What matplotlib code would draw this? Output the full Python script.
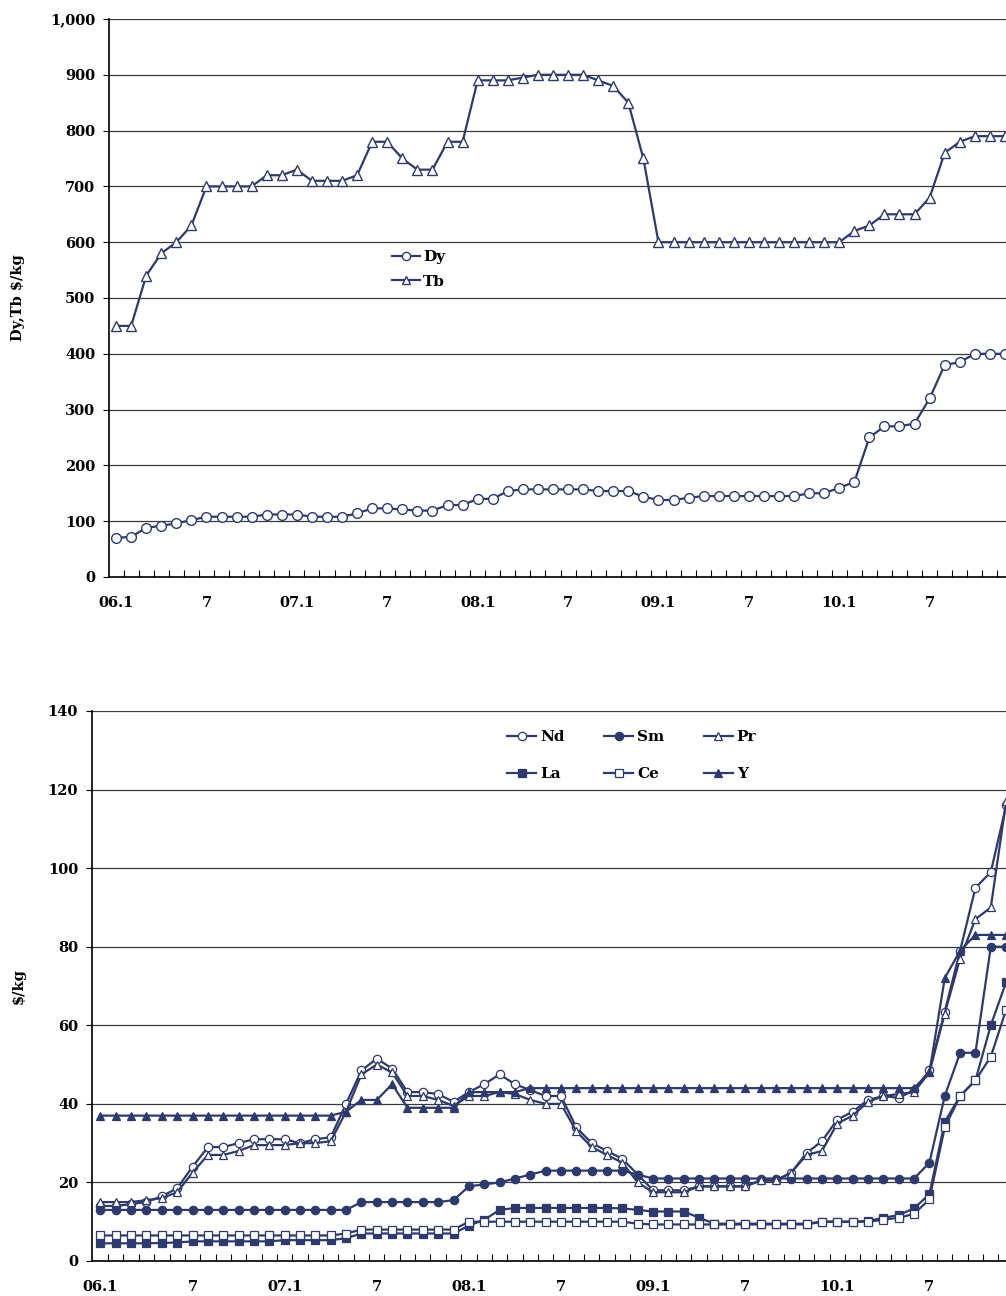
import numpy as np
import matplotlib
matplotlib.use("Agg")
import matplotlib.pyplot as plt
from matplotlib.ticker import FixedLocator, FuncFormatter

# ── Data (monthly, 06.1 … 10.12) ─────────────────────────────────────────────
months = np.arange(60)
tick_pos = np.arange(0, 60, 6)
tick_lbl = ["06.1", "7", "07.1", "7", "08.1", "7", "09.1", "7", "10.1", "7"]

dy = [70, 72, 88, 92, 96, 102, 108, 108, 108, 108,
      112, 112, 112, 108, 108, 108, 114, 123, 123, 121,
      119, 119, 129, 129, 140, 140, 154, 157, 157, 157,
      157, 157, 154, 154, 154, 144, 138, 138, 142, 145,
      145, 145, 145, 145, 145, 145, 150, 150, 160, 170,
      250, 270, 270, 275, 320, 380, 385, 400, 400, 400]
tb = [450, 450, 540, 580, 600, 630, 700, 700, 700, 700,
      720, 720, 730, 710, 710, 710, 720, 780, 780, 750,
      730, 730, 780, 780, 890, 890, 890, 895, 900, 900,
      900, 900, 890, 880, 850, 750, 600, 600, 600, 600,
      600, 600, 600, 600, 600, 600, 600, 600, 600, 620,
      630, 650, 650, 650, 680, 760, 780, 790, 790, 790]

nd = [14, 14, 14.5, 15, 16.5, 18.5, 24, 29, 29, 30,
      31, 31, 31, 30, 31, 31.5, 40, 48.5, 51.5, 49,
      43, 43, 42.5, 40.5, 43, 45, 47.5, 45, 43.5, 42,
      42, 34, 30, 28, 26, 22, 18, 18, 18, 19,
      19, 19, 19, 20.5, 20.5, 22.5, 27.5, 30.5, 36, 38,
      41, 42, 41.5, 43.5, 48.5, 63.5, 79, 95, 99, 116]
pr = [15, 15, 15, 15.5, 16, 17.5, 22.5, 27, 27, 28,
      29.5, 29.5, 29.5, 30, 30, 30.5, 38, 47.5, 50, 48,
      42, 42, 41, 39.5, 42, 42, 43, 42.5, 41, 40,
      40, 33, 29, 27, 25, 20, 17.5, 17.5, 17.5, 19,
      19, 19, 19, 20.5, 20.5, 22.5, 27, 28, 35, 37,
      40.5, 42, 42.5, 43, 48, 63, 77, 87, 90, 117]
sm = [13, 13, 13, 13, 13, 13, 13, 13, 13, 13,
      13, 13, 13, 13, 13, 13, 13, 15, 15, 15,
      15, 15, 15, 15.5, 19, 19.5, 20, 21, 22, 23,
      23, 23, 23, 23, 23, 22, 21, 21, 21, 21,
      21, 21, 21, 21, 21, 21, 21, 21, 21, 21,
      21, 21, 21, 21, 25, 42, 53, 53, 80, 80]
la = [4.5, 4.5, 4.5, 4.5, 4.6, 4.7, 5, 5, 5, 5,
      5, 5, 5.3, 5.3, 5.3, 5.3, 5.8, 7, 7, 7,
      7, 7, 7, 7, 9, 10.5, 13, 13.5, 13.5, 13.5,
      13.5, 13.5, 13.5, 13.5, 13.4, 13, 12.6, 12.6, 12.6, 11,
      9.5, 9.5, 9.5, 9.5, 9.5, 9.5, 9.5, 10, 10, 10,
      10.2, 11, 11.7, 13.4, 17, 35.4, 42, 46, 60, 71]
ce = [6.5, 6.5, 6.5, 6.5, 6.5, 6.5, 6.5, 6.5, 6.5, 6.5,
      6.5, 6.5, 6.5, 6.5, 6.5, 6.5, 7, 8, 8, 8,
      8, 8, 8, 8, 10, 10, 10, 10, 10, 10,
      10, 10, 10, 10, 10, 9.5, 9.3, 9.3, 9.3, 9.3,
      9.3, 9.3, 9.3, 9.3, 9.3, 9.3, 9.3, 10, 10, 10,
      10, 10.5, 11, 12, 15.7, 34, 42, 46, 52, 64]
y_el = [37, 37, 37, 37, 37, 37, 37, 37, 37, 37,
        37, 37, 37, 37, 37, 37, 38, 41, 41, 45,
        39, 39, 39, 39, 43, 43, 43, 43, 44, 44,
        44, 44, 44, 44, 44, 44, 44, 44, 44, 44,
        44, 44, 44, 44, 44, 44, 44, 44, 44, 44,
        44, 44, 44, 44, 48, 72, 79, 83, 83, 83]

# ── Style ─────────────────────────────────────────────────────────────────────
NAVY = "#2E3A6C"
GRID = "#3a3a3a"
plt.rcParams["font.family"] = ["DejaVu Serif"]
plt.rcParams["font.weight"] = "bold"

W, H = 1006, 1296
fig = plt.figure(figsize=(W / 100, H / 100), dpi=100)

def px_axes(l, t, r, b):
    return fig.add_axes([l / W, 1 - b / H, (r - l) / W, (b - t) / H])

def style(ax, ymax, ystep, xl, fmt):
    ax.set_xlim(*xl)
    ax.set_ylim(0, ymax)
    ax.set_yticks(np.arange(0, ymax + 1, ystep))
    ax.yaxis.set_major_formatter(FuncFormatter(fmt))
    ax.grid(axis="y", color=GRID, lw=0.9)
    ax.set_axisbelow(True)
    for s in ("top", "right"):
        ax.spines[s].set_visible(False)
    for s in ("left", "bottom"):
        ax.spines[s].set_color("black")
        ax.spines[s].set_linewidth(1.2)
    ax.xaxis.set_major_locator(FixedLocator(tick_pos))
    ax.set_xticklabels(tick_lbl)
    ax.xaxis.set_minor_locator(FixedLocator(months + 0.5))
    ax.tick_params(axis="x", which="major", length=0, pad=14, labelsize=10.5)
    ax.tick_params(axis="x", which="minor", length=5, direction="in", width=0.8)
    ax.tick_params(axis="y", length=4, width=0.8, pad=6, labelsize=10.5)

# ── Top panel: Dy, Tb ─────────────────────────────────────────────────────────
ax1 = px_axes(109, 19, 1006, 577)
style(ax1, 1000, 100, (-0.47, 59.07), lambda v, p: f"{int(v):,}")
ax1.plot(months, dy, color=NAVY, lw=1.6, marker="o", ms=7,
         mfc="white", mec=NAVY, mew=1.0, label="Dy")
ax1.plot(months, tb, color=NAVY, lw=1.6, marker="^", ms=7,
         mfc="white", mec=NAVY, mew=1.0, label="Tb")
ax1.set_ylabel(r"Dy,Tb \$/kg", fontsize=10.5, fontweight="bold")
ax1.yaxis.set_label_coords(-0.094, 0.5)
ax1.legend(loc="upper left", bbox_to_anchor=(392 / W, 1 - 250 / H),
           bbox_transform=fig.transFigure, frameon=False, fontsize=11,
           handlelength=1.8, handletextpad=0.25, labelspacing=0.7,
           borderpad=0, borderaxespad=0, markerscale=0.85)

# ── Bottom panel: Nd, Sm, Pr, La, Ce, Y ──────────────────────────────────────
ax2 = px_axes(92, 711, 1006, 1261)
style(ax2, 140, 20, (-0.55, 58.99), lambda v, p: f"{int(v)}")
series = [
    ("Nd", nd, "o", "white"),
    ("La", la, "s", NAVY),
    ("Sm", sm, "o", NAVY),
    ("Ce", ce, "s", "white"),
    ("Pr", pr, "^", "white"),
    ("Y", y_el, "^", NAVY),
]
for name, vals, mk, fc in series:
    ax2.plot(months, vals, color=NAVY, lw=1.6, marker=mk, ms=6,
             mfc=fc, mec=NAVY, mew=0.9, label=name)
ax2.set_ylabel(r"\$/kg", fontsize=10.5, fontweight="bold")
ax2.yaxis.set_label_coords(-0.073, 0.5)
ax2.legend(loc="upper left", bbox_to_anchor=(507 / W, 1 - 730 / H),
           bbox_transform=fig.transFigure, ncol=3, frameon=False, fontsize=11,
           handlelength=1.9, handletextpad=0.25, labelspacing=1.5,
           columnspacing=2.6, borderpad=0, borderaxespad=0)

fig.savefig("out.png", dpi=100)
